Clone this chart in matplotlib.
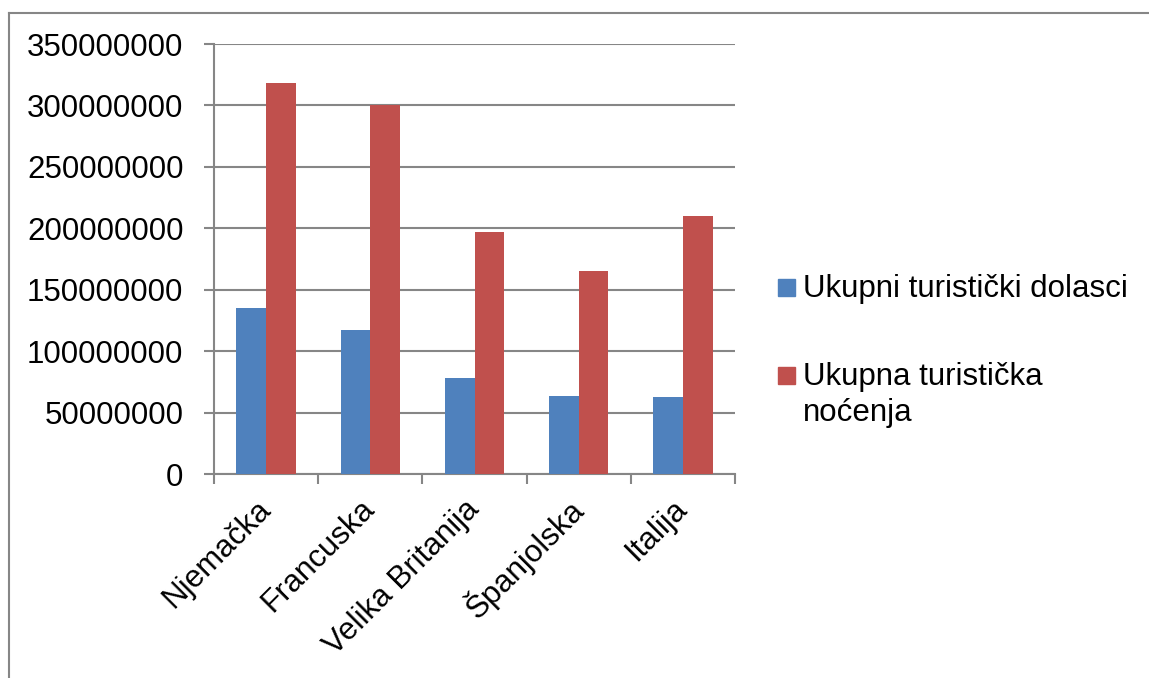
import numpy as np
import matplotlib
matplotlib.use("Agg")
import matplotlib.pyplot as plt
from matplotlib.patches import Rectangle
from matplotlib.lines import Line2D

plt.rcParams['font.family'] = ['Liberation Sans', 'DejaVu Sans']

countries = ["Njemačka", "Francuska", "Velika Britanija", "Španjolska", "Italija"]
dolasci = [135000000, 117600000, 78100000, 63700000, 62300000]
nocenja = [318200000, 300000000, 196800000, 165500000, 209800000]
series_names = ["Ukupni turistički dolasci", "Ukupna turistička\nnoćenja"]
series_colors = ["#4F81BD", "#C0504D"]
yticks = np.arange(0, 350000001, 50000000)

grid_col = "#868686"
fs = 22.5

fig = plt.figure(figsize=(11.49, 6.78), dpi=100)
ax = fig.add_axes([214/1149, 1-474/678, 521/1149, 430/678])

x = np.arange(len(countries))
w = 0.2857
ax.bar(x - w/2, dolasci, w, color=series_colors[0], zorder=3)
ax.bar(x + w/2, nocenja, w, color=series_colors[1], zorder=3)

ax.set_xlim(-0.5, len(countries) - 0.5)
ax.set_ylim(0, 350000000)
ax.set_yticks(yticks)
ax.set_yticklabels([str(v) for v in yticks], fontsize=fs)
ax.yaxis.grid(True, color=grid_col, lw=1.5, zorder=0)
ax.tick_params(axis='y', length=7, width=1.5, color=grid_col, pad=15)

ax.set_xticks(x)
ax.set_xticklabels(countries, fontsize=fs, rotation=45, ha='right', va='center',
                   rotation_mode='anchor')
ax.tick_params(axis='x', which='major', length=0, pad=22)
ax.set_xticks(np.arange(-0.5, len(countries), 1.0), minor=True)
ax.tick_params(axis='x', which='minor', length=7, width=1.5, color=grid_col)

for s in ['top', 'right']:
    ax.spines[s].set_visible(False)
for s in ['left', 'bottom']:
    ax.spines[s].set_color(grid_col)
    ax.spines[s].set_linewidth(1.5)

# legend, drawn by hand so the square sits on the first line
leg_y = [297, 385]
for name, col, yb in zip(series_names, series_colors, leg_y):
    fig.add_artist(Rectangle((778/1149, 1-(yb-1)/678), 17/1149, 17/678,
                             transform=fig.transFigure, color=col))
    lines = name.split("\n")
    for i, line in enumerate(lines):
        fig.text(803/1149, 1-(yb + 36*i)/678, line, fontsize=fs, va='baseline', ha='left')

# outer chart border (top and left visible)
fig.add_artist(Line2D([9/1149, 1], [1-12.5/678, 1-12.5/678], color=grid_col, lw=1.5,
                      transform=fig.transFigure))
fig.add_artist(Line2D([9/1149, 9/1149], [0, 1-12.5/678], color=grid_col, lw=1.5,
                      transform=fig.transFigure))

fig.savefig("out.png", dpi=100)
